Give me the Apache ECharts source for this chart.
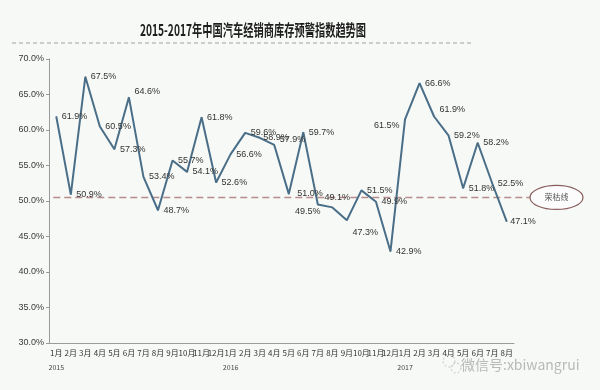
<!DOCTYPE html>
<html>
<head>
<meta charset="utf-8">
<script src="https://cdn.jsdelivr.net/npm/echarts@6/dist/echarts.min.js"></script>
<style>
html,body{margin:0;padding:0;background:#f6f9f5;}
#c{width:600px;height:390px;}
</style>
</head>
<body>
<div id="c"></div>
<script>
const titleText = '2015-2017年中国汽车经销商库存预警指数趋势图';
const categories = ['1月','2月','3月','4月','5月','6月','7月','8月','9月','10月','11月','12月',
  '1月','2月','3月','4月','5月','6月','7月','8月','9月','10月','11月','12月',
  '1月','2月','3月','4月','5月','6月','7月','8月'];
const yearLabels = ['2015','2016','2017'];
const values = [61.9,50.9,67.5,60.5,57.3,64.6,53.4,48.7,55.7,54.1,61.8,52.6,
  56.6,59.6,58.9,57.9,51.0,59.7,49.5,49.1,47.3,51.5,49.9,42.9,
  61.5,66.6,61.9,59.2,51.8,58.2,52.5,47.1];
const threshold = 50.5;
const thresholdText = '荣枯线';
const watermarkText = '微信号:xbiwangrui';

const yearRow = categories.map((c, i) => (i % 12 === 0 ? yearLabels[i / 12] : ''));

// label placement overrides (style only)
const labelOverrides = {
  5: {offset: [0, -6]},
  14: {distance: 3},
  15: {offset: [0, -5]},
  16: {distance: 8},
  18: {position: 'bottom', offset: [-10, -3]},
  19: {position: 'top', offset: [5, 0]},
  20: {offset: [0, 12]},
  24: {position: 'left', offset: [0, 6]},
  26: {offset: [0, -7]},
  31: {distance: 3}
};

const FONT = '"Noto Sans CJK SC", sans-serif';
const chart = echarts.init(document.getElementById('c'), null, {renderer: 'canvas'});
chart.setOption({
  backgroundColor: '#f6f9f5',
  animation: false,
  grid: {left: 49, right: 86, top: 59, bottom: 47},
  xAxis: [{
    type: 'category',
    data: categories,
    boundaryGap: true,
    axisLine: {lineStyle: {color: '#9a9a9a', width: 1}},
    axisTick: {length: 3, lineStyle: {color: '#9a9a9a'}},
    axisLabel: {interval: 0, fontSize: 8, color: '#333', margin: 6, fontFamily: FONT}
  }, {
    type: 'category',
    data: yearRow,
    position: 'bottom',
    offset: 15,
    axisLine: {show: false},
    axisTick: {show: false},
    axisLabel: {interval: 0, fontSize: 7, color: '#444', margin: 6, fontFamily: FONT}
  }],
  yAxis: {
    type: 'value',
    min: 30, max: 70, interval: 5,
    axisLine: {show: true, lineStyle: {color: '#9a9a9a'}},
    axisTick: {show: true, length: 3, lineStyle: {color: '#9a9a9a'}},
    splitLine: {show: false},
    axisLabel: {formatter: v => v.toFixed(1) + '%', fontSize: 9, color: '#3a3a3a', margin: 5,
      fontFamily: '"Liberation Sans", Arial, sans-serif'}
  },
  series: [{
    type: 'line',
    data: values.map((v, i) => ({value: v, label: labelOverrides[i] || {}})),
    symbol: 'circle',
    symbolSize: 1,
    showSymbol: true,
    itemStyle: {color: '#4a6e88'},
    lineStyle: {color: '#4a6e88', width: 2},
    z: 3,
    label: {
      show: true,
      position: 'right',
      distance: 5,
      formatter: p => Number(p.value).toFixed(1) + '%',
      fontSize: 9,
      color: '#333',
      fontFamily: '"Liberation Sans", Arial, sans-serif'
    }
  }]
});

const yPix = chart.convertToPixel({yAxisIndex: 0}, threshold);
const xStart = chart.convertToPixel({xAxisIndex: 0}, 0) - 3;
const xEnd = 530;
const ellRx = 26.5, ellRy = 12;
chart.setOption({
  graphic: [
    {type: 'text', x: 253, y: 30, scaleX: 0.64, z: 10,
      style: {text: titleText, font: 'bold 16px ' + FONT, fill: '#1e1e1e',
        textAlign: 'center', align: 'center', textVerticalAlign: 'middle', verticalAlign: 'middle'}},
    {type: 'line', z: 1, shape: {x1: 12, y1: 43, x2: 473, y2: 43},
      style: {stroke: '#bdbdbd', lineWidth: 1.5, lineDash: [4, 3]}},
    {type: 'line', z: 1, shape: {x1: xStart, y1: yPix, x2: xEnd, y2: yPix},
      style: {stroke: '#b98d8d', lineWidth: 1.6, lineDash: [7, 4]}},
    {type: 'ellipse', z: 5, shape: {cx: xEnd + ellRx, cy: yPix, rx: ellRx, ry: ellRy},
      style: {fill: '#fcfcfc', stroke: '#8a5e5e', lineWidth: 1.2}},
    {type: 'text', z: 6, x: xEnd + ellRx, y: yPix,
      style: {text: thresholdText, font: '8px ' + FONT, fill: '#555',
        textAlign: 'center', align: 'center', textVerticalAlign: 'middle', verticalAlign: 'middle'}},
    {type: 'circle', z: 6, shape: {cx: 449, cy: 361, r: 6},
      style: {fill: 'none', stroke: '#c4c4c4', lineWidth: 1, lineDash: [2, 2]}},
    {type: 'circle', z: 6, shape: {cx: 456, cy: 368, r: 5},
      style: {fill: 'none', stroke: '#c4c4c4', lineWidth: 1, lineDash: [2, 2]}},
    {type: 'text', z: 6, x: 461, y: 365,
      style: {text: watermarkText, font: '14px ' + FONT, fill: '#b9b9b9',
        textAlign: 'left', align: 'left', textVerticalAlign: 'middle', verticalAlign: 'middle'}}
  ]
});
</script>
</body>
</html>
